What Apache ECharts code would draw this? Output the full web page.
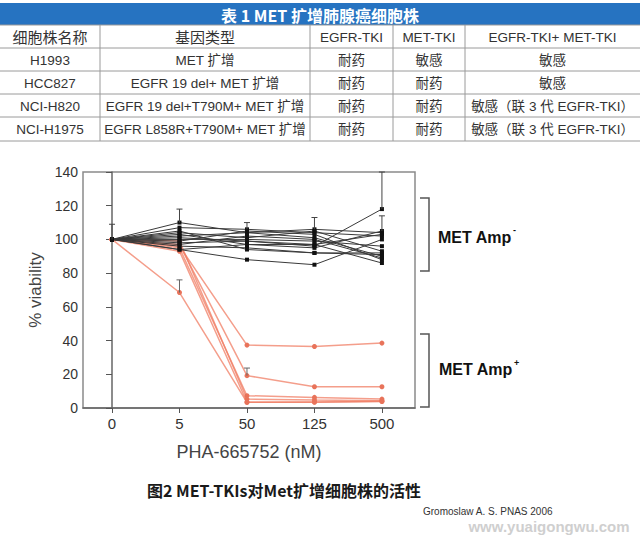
<!DOCTYPE html>
<html><head><meta charset="utf-8">
<script src="https://cdn.jsdelivr.net/npm/echarts@6/dist/echarts.min.js"></script>
<style>html,body{margin:0;padding:0;background:#fff}#c{width:640px;height:535px}</style>
</head><body><div id="c"></div><script>
// ---- table data ----
const tableTitle = '表 1 MET 扩增肺腺癌细胞株';
const tableHeader = ['细胞株名称', '基因类型', 'EGFR-TKI', 'MET-TKI', 'EGFR-TKI+ MET-TKI'];
const cellLines = ['H1993', 'HCC827', 'NCI-H820', 'NCI-H1975'];
const geneTypes = ['MET 扩增', 'EGFR 19 del+ MET 扩增', 'EGFR 19 del+T790M+ MET 扩增', 'EGFR L858R+T790M+ MET 扩增'];
const egfrTki = ['耐药', '耐药', '耐药', '耐药'];
const metTki = ['敏感', '耐药', '耐药', '耐药'];
const comboTki = ['敏感', '敏感', '敏感（联 3 代 EGFR-TKI）', '敏感（联 3 代 EGFR-TKI）'];

// ---- chart data ----
const doses = ['0', '5', '50', '125', '500'];
const ampNeg = [
  [100, 101, 99, 96, 118],
  [100, 94, 88, 85, 100],
  [100, 110, 104, 106, 104],
  [100, 107, 106, 104, 102],
  [100, 104, 101, 105, 93],
  [100, 102, 104, 101, 90],
  [100, 99, 105, 103, 88],
  [100, 103, 97, 95, 105],
  [100, 98, 99, 97, 86],
  [100, 96, 95, 92, 91],
  [100, 94, 97, 97, 103],
  [100, 100, 100, 99, 96],
  [100, 105, 94, 92, 92],
  [100, 97, 102, 100, 89]
];
const ampPos = [
  [100, 96, 37.3, 36.5, 38.5],
  [100, 97, 19.2, 12.6, 12.6],
  [100, 95, 7.3, 6.3, 5.3],
  [100, 99, 5.3, 4.7, 4.3],
  [100, 93, 3.4, 3.4, 4],
  [100, 68.5, 3.4, 3.6, 3.8]
];
// error bars: [dose index, value, upper]
const errNeg = [[0, 100, 109], [1, 110, 118], [2, 106, 110], [3, 106, 113], [4, 118, 140], [4, 105, 114]];
const errPos = [[1, 68.5, 76], [2, 19.2, 23.7]];

const caption = '图2 MET-TKIs对Met扩增细胞株的活性';
const source = 'Gromoslaw A. S. PNAS 2006';
const watermark = 'www.yuaigongwu.com';

const FONT = '"Liberation Sans","Noto Sans CJK SC",sans-serif';
const CJK = '"Noto Sans CJK SC","Liberation Sans",sans-serif';

// ---- table graphics ----
const colX = [0, 100, 310, 393, 465, 640];
const rowY = [25, 48, 71, 94, 117, 141];
const g = [];
g.push({type: 'rect', shape: {x: 0, y: 3, width: 640, height: 22}, style: {fill: '#2673c1'}});
g.push({type: 'text', x: 320, y: 14.5, style: {text: tableTitle, fill: '#fff', font: 'bold 16px ' + CJK, textAlign: 'center', textVerticalAlign: 'middle'}});
rowY.forEach(y => g.push({type: 'line', shape: {x1: 0, y1: y, x2: 640, y2: y}, style: {stroke: '#9a9a9a', lineWidth: 1}}));
colX.slice(1, 5).forEach(x => g.push({type: 'line', shape: {x1: x, y1: 25, x2: x, y2: 141}, style: {stroke: '#9a9a9a', lineWidth: 1}}));
const rows = [tableHeader].concat(cellLines.map((c, i) => [c, geneTypes[i], egfrTki[i], metTki[i], comboTki[i]]));
rows.forEach((r, ri) => {
  r.forEach((t, ci) => {
    g.push({type: 'text', x: (colX[ci] + colX[ci + 1]) / 2, y: (rowY[ri] + rowY[ri + 1]) / 2 + 0.5,
      style: {text: t, fill: '#333', font: (ri === 0 && ci < 2 ? '15px ' : '13.5px ') + FONT, textAlign: 'center', textVerticalAlign: 'middle'}});
  });
});

// brackets and labels
g.push({type: 'polyline', shape: {points: [[420, 198], [429, 198], [429, 271], [420, 271]]}, style: {stroke: '#555', lineWidth: 1.5, fill: null}});
g.push({type: 'polyline', shape: {points: [[420, 334], [429, 334], [429, 407], [420, 407]]}, style: {stroke: '#555', lineWidth: 1.5, fill: null}});
g.push({type: 'text', x: 438, y: 237, style: {text: 'MET Amp', fill: '#111', font: 'bold 16px ' + FONT, textAlign: 'left', textVerticalAlign: 'middle'}});
g.push({type: 'text', x: 513, y: 230, style: {text: '-', fill: '#111', font: 'bold 9px ' + FONT, textAlign: 'left', textVerticalAlign: 'middle'}});
g.push({type: 'text', x: 439, y: 369, style: {text: 'MET Amp', fill: '#111', font: 'bold 16px ' + FONT, textAlign: 'left', textVerticalAlign: 'middle'}});
g.push({type: 'text', x: 514, y: 363, style: {text: '+', fill: '#111', font: 'bold 9px ' + FONT, textAlign: 'left', textVerticalAlign: 'middle'}});
// captions
g.push({type: 'text', x: 284, y: 490, style: {text: caption, fill: '#1a1a1a', font: 'bold 16px ' + CJK, textAlign: 'center', textVerticalAlign: 'middle'}});
g.push({type: 'text', x: 423, y: 511, style: {text: source, fill: '#333', font: '10px ' + FONT, textAlign: 'left', textVerticalAlign: 'middle'}});
g.push({type: 'text', x: 549, y: 526, style: {text: watermark, fill: '#cfcfcf', font: 'bold 15px ' + FONT, textAlign: 'center', textVerticalAlign: 'middle'}});

// ---- series ----
const series = [];
ampNeg.forEach((row, k) => series.push({
  type: 'line', name: 'neg' + k, data: row.map((v, i) => [i, v]), symbol: 'rect', symbolSize: 4,
  lineStyle: {color: '#3a3a3a', width: 1}, itemStyle: {color: '#111'}, z: 3
}));
ampPos.forEach((row, k) => series.push({
  type: 'line', name: 'pos' + k, data: row.map((v, i) => [i, v]), symbol: 'circle', symbolSize: 5,
  lineStyle: {color: 'rgba(240,125,100,0.75)', width: 1.5}, itemStyle: {color: '#e8735a'}, z: 2
}));
function errSeries(data, color) {
  return {
    type: 'custom', data: data, z: 4, encode: {x: 0, y: [1, 2]},
    renderItem: (params, api) => {
      const x = api.value(0);
      const lo = api.coord([x, api.value(1)]);
      const hi = api.coord([x, api.value(2)]);
      return {type: 'group', children: [
        {type: 'line', shape: {x1: lo[0], y1: lo[1], x2: hi[0], y2: hi[1]}, style: {stroke: color, lineWidth: 1}},
        {type: 'line', shape: {x1: hi[0] - 3, y1: hi[1], x2: hi[0] + 3, y2: hi[1]}, style: {stroke: color, lineWidth: 1}}
      ]};
    }
  };
}
series.push(errSeries(errNeg, '#444'));
series.push(errSeries(errPos, '#666'));

const chart = echarts.init(document.getElementById('c'), null, {renderer: 'svg'});
chart.setOption({
  animation: false,
  backgroundColor: '#fff',
  grid: {left: 83, top: 172, width: 332, height: 236, show: true, borderColor: '#8a8a8a', borderWidth: 1.5},
  xAxis: {
    type: 'value', min: -0.43, max: 4.49,
    axisLine: {show: true, onZero: false, lineStyle: {color: '#666', width: 1.5}},
    splitLine: {show: false},
    axisTick: {show: true, customValues: [0, 1, 2, 3, 4], length: 5, lineStyle: {color: '#555'}},
    axisLabel: {customValues: [0, 1, 2, 3, 4], formatter: v => doses[Math.round(v)], color: '#333', fontSize: 15, fontFamily: FONT, margin: 8},
    name: 'PHA-665752 (nM)', nameLocation: 'middle', nameGap: 35,
    nameTextStyle: {fontSize: 18, color: '#444', fontFamily: FONT}
  },
  yAxis: {
    type: 'value', min: 0, max: 140, interval: 20,
    axisLine: {show: true, lineStyle: {color: '#666', width: 1.5}},
    axisTick: {show: true, length: 6, lineStyle: {color: '#555'}},
    splitLine: {show: false},
    axisLabel: {fontSize: 14, color: '#333', fontFamily: FONT, margin: 5},
    name: '% viability', nameLocation: 'middle', nameGap: 37,
    nameTextStyle: {fontSize: 17, color: '#444', fontFamily: FONT}
  },
  series: series,
  graphic: g
});
</script></body></html>
